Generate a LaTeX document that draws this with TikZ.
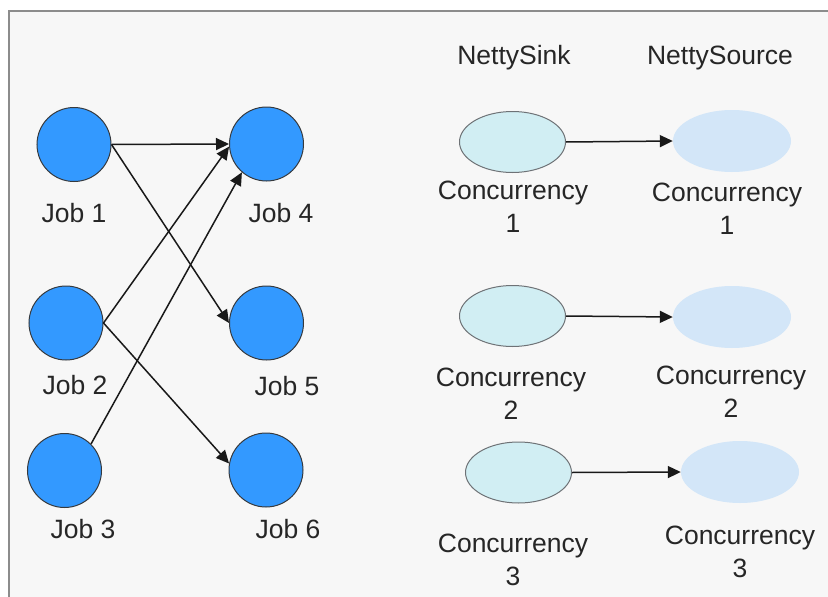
\documentclass[tikz,border=0pt]{standalone}
\usepackage{fontspec}
\setmainfont{Liberation Sans}
\usetikzlibrary{arrows.meta,shapes.geometric}
\definecolor{jobblue}{HTML}{3399FF}
\definecolor{jobedge}{HTML}{36393D}
\definecolor{sinkfill}{HTML}{D1EEF3}
\definecolor{sinkedge}{HTML}{6E7276}
\definecolor{sourcefill}{HTML}{D3E6F8}
\definecolor{framegray}{HTML}{8C8C8C}
\definecolor{panelgray}{HTML}{F7F7F7}
\begin{document}
\begin{tikzpicture}[x=1pt,y=-1pt,
  job/.style={circle,draw=jobedge,line width=1pt,fill=jobblue,minimum size=74pt,inner sep=0pt},
  sinkoval/.style={ellipse,draw=sinkedge,line width=1pt,fill=sinkfill,minimum width=106pt,minimum height=61pt,inner sep=0pt},
  sourceoval/.style={ellipse,fill=sourcefill,minimum width=118pt,minimum height=62pt,inner sep=0pt},
  txt/.style={font=\fontsize{26.5}{33}\selectfont,align=center,inner sep=0pt,text=black!85},
  link/.style={-{Triangle[length=13pt,width=12pt]},line width=1.5pt,black!90}]
\clip (0,0) rectangle (828,597);
\draw[framegray,line width=1.6pt,fill=panelgray] (9,11) rectangle (860,630);
\node[job] (j1) at (74,144.5) {};
\node[job] (j2) at (66,323) {};
\node[job] (j3) at (64.5,470.5) {};
\node[job] (j4) at (266.5,144) {};
\node[job] (j5) at (266.5,323) {};
\node[job] (j6) at (266,470) {};
\node[txt] (l1) at (74,213) {Job 1};
\node[txt] (l2) at (75,385) {Job 2};
\node[txt] (l3) at (83,529) {Job 3};
\node[txt] (l4) at (281,213) {Job 4};
\node[txt] (l5) at (287,386) {Job 5};
\node[txt] (l6) at (288,529) {Job 6};
\draw[link] (j1.east) -- (j4.west);
\draw[link] (j1.east) -- (j5.west);
\draw[link] (j2.east) -- (j4.184);
\draw[link] (j3.45) -- (j4.229);
\draw[link] (j2.east) -- (j6.170);
\node[txt] (sinkhead) at (514,58) {NettySink};
\node[txt] (sourcehead) at (720,58) {NettySource};
\node[sinkoval] (s1) at (512.5,142) {};
\node[sinkoval] (s2) at (512.5,316) {};
\node[sinkoval] (s3) at (518.5,472.5) {};
\node[sourceoval] (t1) at (732,141) {};
\node[sourceoval] (t2) at (732,317) {};
\node[sourceoval] (t3) at (740,472) {};
\draw[link] (s1.east) -- (t1.west);
\draw[link] (s2.east) -- (t2.west);
\draw[link] (s3.east) -- (t3.west);
\node[txt] (c1) at (513,206.5) {Concurrency\\1};
\node[txt] (c2) at (511,393.5) {Concurrency\\2};
\node[txt] (c3) at (513,559.5) {Concurrency\\3};
\node[txt] (d1) at (727,208.5) {Concurrency\\1};
\node[txt] (d2) at (731,392) {Concurrency\\2};
\node[txt] (d3) at (740,552) {Concurrency\\3};
\end{tikzpicture}
\end{document}
